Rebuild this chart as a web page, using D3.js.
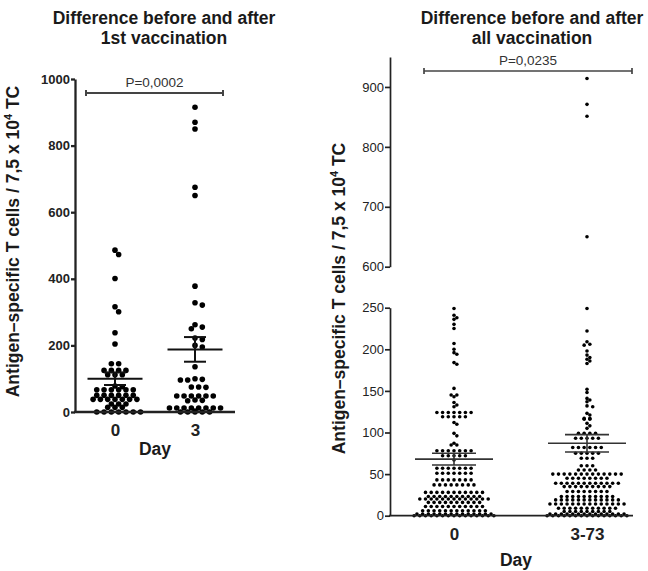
<!DOCTYPE html>
<html>
<head>
<meta charset="utf-8">
<script src="https://cdn.jsdelivr.net/npm/d3@7"></script>
<style>
  body { margin: 0; background: #fff; }
  text { font-family: "Liberation Sans", Arial, sans-serif; }
</style>
</head>
<body>
<svg id="chart" width="648" height="571"></svg>
<script>
// ---- data ----
var titleLeft = ["Difference before and after", "1st vaccination"];
var titleRight = ["Difference before and after", "all vaccination"];
var catsLeft = ["0", "3"];
var catsRight = ["0", "3-73"];
var pLeft = "P=0,0002";
var pRight = "P=0,0235";

var left0 = [486, 473, 401, 316, 301, 238, 204, 145, 145,
  125, 125, 125, 125, 112, 112, 112, 78, 76,
  67, 67, 67, 67, 67, 67, 50, 50, 50, 50, 50, 50,
  38, 38, 38, 38, 38, 38, 38, 24, 24, 24, 14, 14, 14,
  0, 0, 0, 0, 0, 0, 0];
var left3 = [915, 870, 850, 675, 650, 378, 328, 321, 262, 255, 250, 222, 218, 200, 195,
  136, 100, 98, 96, 96, 75, 75, 74,
  48, 48, 48, 48, 48, 48, 36, 35, 34,
  12, 12, 12, 12, 12, 12, 12, 12, 3,
  0, 0, 0, 0, 0];
var leftMean = [100, 188];
var leftSem = [19, 37];
var leftTicks = [0, 200, 400, 600, 800, 1000];

var right0 = [249, 241, 238, 236, 230, 225, 207, 200, 196, 194, 184, 182,
  153, 145, 145, 143, 136, 133, 131,
  124, 124, 124, 124, 124, 124, 124, 119, 119, 119, 119, 119,
  112, 110, 99, 96, 87, 85, 85,
  78, 78, 78, 78, 78, 78, 78, 72, 72, 72, 72, 72, 67,
  57, 57, 57, 57, 57, 57, 57,
  51, 51, 51, 51, 51, 51, 51,
  43, 43, 43, 43, 43, 43, 43,
  37, 37, 37, 37, 37, 37, 37, 37,
  28, 28, 28, 28, 28, 28, 28, 28, 28, 28, 28,
  23, 23, 23, 23, 23, 23, 23, 23, 23, 23,
  20, 20, 20, 20, 20, 20, 20, 20, 20, 20, 20, 20, 20,
  16, 16, 16, 16, 16, 16, 16, 16, 16, 16,
  11, 11, 11, 11, 11, 11, 11, 11, 11, 11, 11,
  6, 6, 6, 6, 6, 6, 6, 6, 6, 6, 6, 6,
  2, 2, 2, 2, 2, 2, 2, 2, 2, 2, 2, 2, 2, 2,
  0, 0, 0, 0, 0, 0, 0, 0, 0, 0, 0, 0, 0, 0, 0];
var right1 = [914, 871, 851, 650,
  249, 222, 209, 206, 205, 198, 193, 190, 188, 186, 183,
  152, 148, 141, 139, 137, 132, 131, 123, 121, 117, 117, 116, 116,
  111, 108, 105, 99, 99, 99, 99, 93, 93, 93, 93, 93,
  82, 82, 82, 82, 82, 82, 75, 75, 75, 75, 75, 69, 69, 69,
  60, 60, 60, 55, 55, 55, 55,
  50, 50, 50, 50, 50, 50, 50, 50, 50, 50, 50, 50, 50,
  45, 45, 45, 45, 45, 45, 45, 45,
  39, 39, 39, 39, 39, 39, 39, 39, 39, 39, 39, 39,
  35, 35, 35, 35, 35, 35, 35, 35, 35,
  29, 29, 29, 29, 29, 29, 29, 29,
  23, 23, 23, 23, 23, 23, 23, 23, 23, 23,
  19, 19, 19, 19, 19, 19, 19, 19, 19, 19, 19, 19,
  14, 14, 14, 14, 14, 14, 14, 14, 14, 14, 14, 14, 14, 14,
  9, 9, 9, 9, 9, 9, 9, 9, 9, 9, 9,
  5, 5, 5, 5, 5, 5, 5, 5, 5,
  2, 2, 2, 2, 2, 2, 2, 2, 2, 2, 2, 2, 2, 2,
  0, 0, 0, 0, 0, 0, 0, 0, 0, 0, 0, 0, 0, 0, 0];
var rightMean = [68, 87];
var rightSem = [7, 10.5];
var rightTicksLow = [0, 50, 100, 150, 200, 250];
var rightTicksHigh = [600, 700, 800, 900];

var svg = d3.select('#chart');

// dot plot: equal values form a centred row; a row that would overlap
// dots already placed is nudged sideways by half a step
function swarm(values, y, cx, step, r) {
  var placed = [];
  var minD = 2 * r * 0.9;
  var shifts = [0, 0.5, -0.5, 1, -1, 1.5, -1.5];
  var rows = d3.groups(values, function (v) { return v; })
    .sort(function (a, b) { return b[0] - a[0]; });
  rows.forEach(function (row) {
    var n = row[1].length, py = y(row[0]);
    var base = d3.range(n).map(function (i) { return cx + (i - (n - 1) / 2) * step; });
    var pick = 0;
    for (var k = 0; k < shifts.length; k++) {
      var sh = shifts[k] * step;
      var hit = base.some(function (bx) {
        return placed.some(function (p) {
          var dx = p.x - (bx + sh), dy = p.y - py;
          return Math.sqrt(dx * dx + dy * dy) < minD;
        });
      });
      if (!hit) { pick = sh; break; }
    }
    base.forEach(function (bx) { placed.push({ x: bx + pick, y: py }); });
  });
  return placed;
}

function dots(pts, r) {
  svg.append('g').selectAll('circle')
    .data(pts)
    .enter()
    .append('circle')
    .attr('cx', function (d) { return d.x; })
    .attr('cy', function (d) { return d.y; })
    .attr('r', r)
    .attr('fill', '#000');
}

function meanSem(cx, y, mean, sem, halfW, capW, sw, col) {
  var g = svg.append('g').attr('stroke', col).attr('stroke-width', sw);
  g.append('line').attr('x1', cx - halfW).attr('x2', cx + halfW)
    .attr('y1', y(mean)).attr('y2', y(mean));
  g.append('line').attr('x1', cx).attr('x2', cx)
    .attr('y1', y(mean - sem)).attr('y2', y(mean + sem));
  [mean - sem, mean + sem].forEach(function (v) {
    g.append('line').attr('x1', cx - capW).attr('x2', cx + capW)
      .attr('y1', y(v)).attr('y2', y(v));
  });
}

function pBar(x1, x2, y, label, sw) {
  var g = svg.append('g').attr('stroke', '#444').attr('stroke-width', sw);
  g.append('line').attr('x1', x1).attr('x2', x2).attr('y1', y).attr('y2', y);
  g.append('line').attr('x1', x1).attr('x2', x1).attr('y1', y - 3).attr('y2', y + 3);
  g.append('line').attr('x1', x2).attr('x2', x2).attr('y1', y - 3).attr('y2', y + 3);
  svg.append('text').attr('x', (x1 + x2) / 2).attr('y', y - 6)
    .attr('text-anchor', 'middle').attr('font-size', 13.5).attr('fill', '#333')
    .text(label);
}

function title(lines, cx) {
  svg.append('text').attr('text-anchor', 'middle').attr('font-size', 17.5)
    .attr('font-weight', 'bold').attr('fill', '#1a1a1a')
    .selectAll('tspan')
    .data(lines)
    .enter()
    .append('tspan')
    .attr('x', cx)
    .attr('y', function (d, i) { return 24 + i * 19.5; })
    .text(function (d) { return d; });
}

function yLabel(x, y) {
  var t = svg.append('text')
    .attr('transform', 'translate(' + x + ',' + y + ') rotate(-90)')
    .attr('text-anchor', 'middle').attr('font-size', 17.5)
    .attr('font-weight', 'bold').attr('fill', '#1a1a1a');
  t.append('tspan').text('Antigen\u2013specific T cells / 7,5 x 10');
  t.append('tspan').attr('dy', -7).attr('font-size', 11).text('4');
  t.append('tspan').attr('dy', 7).text(' TC');
}

function styleAxis(g, sw, fs, fw) {
  g.selectAll('path, line').attr('stroke', '#222').attr('stroke-width', sw);
  g.selectAll('text').attr('font-size', fs).attr('font-weight', fw)
    .attr('fill', '#222').attr('font-family', '"Liberation Sans", Arial, sans-serif');
}

// ---- left panel ----
var yL = d3.scaleLinear().domain([0, 1000]).range([412, 79]);
var xL = d3.scalePoint().domain(catsLeft).range([115, 195]);

dots(swarm(left0, yL, xL(catsLeft[0]), 7.3, 2.8), 2.8);
dots(swarm(left3, yL, xL(catsLeft[1]), 7.3, 2.8), 2.8);
catsLeft.forEach(function (c, i) {
  meanSem(xL(c), yL, leftMean[i], leftSem[i], 27.5, 11, 2, '#111');
});

var axL = svg.append('g').attr('transform', 'translate(75,0)')
  .call(d3.axisLeft(yL).tickValues(leftTicks).tickFormat(d3.format('d'))
    .tickSize(4).tickSizeOuter(0).tickPadding(1));
styleAxis(axL, 2.3, 13, 'bold');

svg.append('line').attr('x1', 74).attr('x2', 235)
  .attr('y1', yL(0)).attr('y2', yL(0))
  .attr('stroke', '#222').attr('stroke-width', 2.3);
var bxL = svg.append('g').attr('transform', 'translate(0,' + yL(0) + ')')
  .call(d3.axisBottom(xL).tickSize(0).tickPadding(12));
bxL.select('.domain').remove();
styleAxis(bxL, 0, 17, 'bold');

svg.append('text').attr('x', 155).attr('y', 455).attr('text-anchor', 'middle')
  .attr('font-size', 17.5).attr('font-weight', 'bold').attr('fill', '#1a1a1a').text('Day');

pBar(86, 223, 93, pLeft, 2);
title(titleLeft, 164);
yLabel(19, 241.5);

// ---- right panel (broken y axis) ----
var yRLow = d3.scaleLinear().domain([0, 250]).range([515.7, 307.7]);
var yRHigh = d3.scaleLinear().domain([600, 950]).range([266.7, 57]);
function yR(v) { return v <= 250 ? yRLow(v) : yRHigh(v); }
var xR = d3.scalePoint().domain(catsRight).range([454, 587]);

dots(swarm(right0, yR, xR(catsRight[0]), 5.7, 1.8), 1.8);
dots(swarm(right1, yR, xR(catsRight[1]), 5.7, 1.8), 1.8);
catsRight.forEach(function (c, i) {
  meanSem(xR(c), yR, rightMean[i], rightSem[i], 39, 22, 1.6, '#333');
});

var axRH = svg.append('g').attr('transform', 'translate(390,0)')
  .call(d3.axisLeft(yRHigh).tickValues(rightTicksHigh).tickSize(5).tickSizeOuter(0).tickPadding(1));
styleAxis(axRH, 1.7, 13, 'normal');
var axRL = svg.append('g').attr('transform', 'translate(390,0)')
  .call(d3.axisLeft(yRLow).tickValues(rightTicksLow).tickSize(5).tickSizeOuter(0).tickPadding(1));
styleAxis(axRL, 1.7, 13, 'normal');

svg.append('line').attr('x1', 389).attr('x2', 633)
  .attr('y1', yRLow(0)).attr('y2', yRLow(0))
  .attr('stroke', '#222').attr('stroke-width', 1.7);
var bxR = svg.append('g').attr('transform', 'translate(0,' + yRLow(0) + ')')
  .call(d3.axisBottom(xR).tickSize(0).tickPadding(12));
bxR.select('.domain').remove();
styleAxis(bxR, 0, 17, 'bold');

svg.append('text').attr('x', 516).attr('y', 566).attr('text-anchor', 'middle')
  .attr('font-size', 17.5).attr('font-weight', 'bold').attr('fill', '#1a1a1a').text('Day');

pBar(424, 632, 71, pRight, 1.7);
title(titleRight, 532);
yLabel(345, 298.5);
</script>
</body>
</html>
